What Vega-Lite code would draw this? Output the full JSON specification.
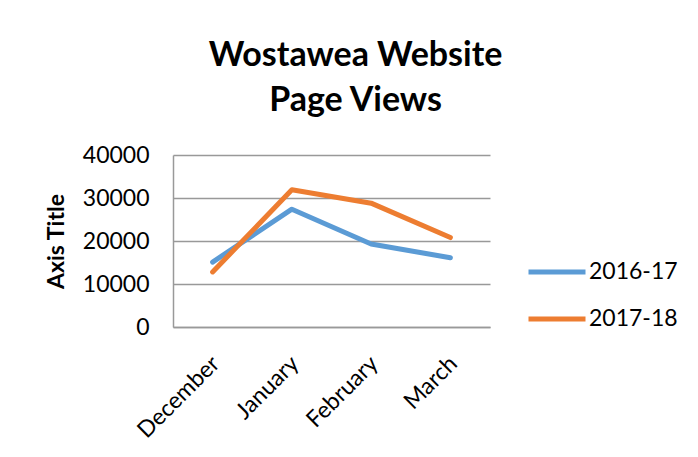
{
  "$schema": "https://vega.github.io/schema/vega-lite/v6.json",
  "autosize": "none",
  "width": 317,
  "height": 172,
  "padding": {"left": 173, "top": 155, "right": 208, "bottom": 130},
  "background": "white",
  "title": {
    "text": ["Wostawea Website", "Page Views"],
    "font": "Lato",
    "fontSize": 34,
    "fontWeight": "bold",
    "color": "#000000",
    "anchor": "middle",
    "lineHeight": 45,
    "offset": 26,
    "dx": 24
  },
  "data": {
    "values": [
      {"month": "December", "series": "2016-17", "views": 15100},
      {"month": "January", "series": "2016-17", "views": 27400},
      {"month": "February", "series": "2016-17", "views": 19300},
      {"month": "March", "series": "2016-17", "views": 16100},
      {"month": "December", "series": "2017-18", "views": 12800},
      {"month": "January", "series": "2017-18", "views": 31900},
      {"month": "February", "series": "2017-18", "views": 28800},
      {"month": "March", "series": "2017-18", "views": 20800}
    ]
  },
  "mark": {"type": "line", "strokeWidth": 5, "strokeCap": "round", "strokeJoin": "round"},
  "encoding": {
    "x": {
      "field": "month",
      "type": "nominal",
      "sort": ["December", "January", "February", "March"],
      "scale": {"type": "point", "padding": 0.5},
      "axis": {
        "title": null,
        "labelAngle": -45,
        "labelFont": "Lato",
        "labelFontSize": 23,
        "labelColor": "#000000",
        "labelPadding": 25,
        "labelOffset": -5,
        "ticks": false,
        "domain": true,
        "domainColor": "#999999",
        "domainWidth": 1.5,
        "grid": false
      }
    },
    "y": {
      "field": "views",
      "type": "quantitative",
      "scale": {"domain": [0, 40000], "nice": false},
      "axis": {
        "values": [0, 10000, 20000, 30000, 40000],
        "format": "d",
        "title": "Axis Title",
        "titleFont": "Lato",
        "titleFontSize": 23,
        "titleFontWeight": "bold",
        "titleColor": "#000000",
        "titlePadding": 14,
        "labelFont": "Lato",
        "labelFontSize": 23,
        "labelColor": "#000000",
        "labelPadding": 24,
        "ticks": false,
        "tickSize": 0,
        "domain": true,
        "domainColor": "#999999",
        "domainWidth": 1.5,
        "grid": true,
        "gridColor": "#999999",
        "gridWidth": 1.5
      }
    },
    "color": {
      "field": "series",
      "type": "nominal",
      "scale": {"domain": ["2016-17", "2017-18"], "range": ["#5B9BD5", "#ED7D31"]},
      "legend": {
        "title": null,
        "orient": "none",
        "legendX": 353,
        "legendY": 86,
        "symbolType": "stroke",
        "symbolSize": 3249,
        "symbolStrokeWidth": 5,
        "labelFont": "Lato",
        "labelFontSize": 23,
        "labelColor": "#000000",
        "labelOffset": 1,
        "rowPadding": 4
      }
    }
  },
  "config": {
    "view": {"stroke": null}
  }
}
